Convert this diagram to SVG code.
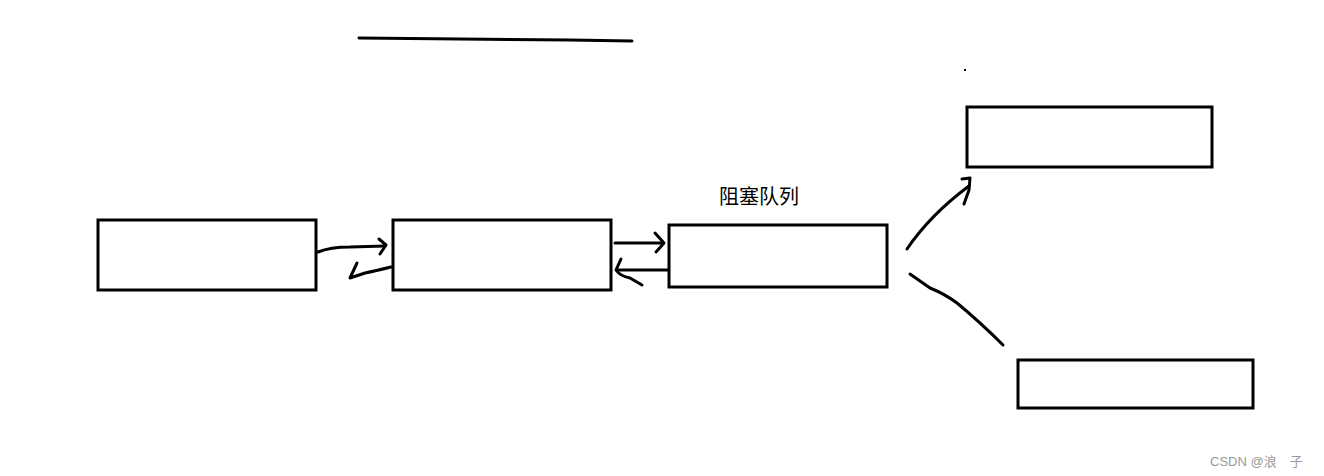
<svg xmlns="http://www.w3.org/2000/svg" width="1324" height="476" viewBox="0 0 1324 476">
<style>
.box{fill:none;stroke:#000;stroke-width:3}
.ln{fill:none;stroke:#000;stroke-width:3;stroke-linecap:round;stroke-linejoin:round}
.lbl{font-family:"Noto Sans CJK SC","Liberation Sans",sans-serif;font-size:20px;fill:#000}
.wm{font-family:"Liberation Sans","Noto Sans CJK SC",sans-serif;font-size:13px;fill:#999}
</style>
<rect width="1324" height="476" fill="#fff"/>
<path class="ln" d="M359,38 L460,39 L570,40 L632,41"/>
<rect x="964" y="69" width="2" height="2" fill="#000"/>
<g id="n1"><rect class="box" x="98" y="220" width="218" height="70"/></g>
<g id="n2"><rect class="box" x="393" y="220" width="218" height="70"/></g>
<g id="n3"><rect class="box" x="669" y="225" width="218" height="62"/><text class="lbl" x="719" y="204">阻塞队列</text></g>
<g id="n4"><rect class="box" x="967" y="107" width="245" height="60"/></g>
<g id="n5"><rect class="box" x="1018" y="360" width="235" height="48"/></g>
<g id="connectors">
<path class="ln" d="M318,252 Q330,247 350,247 L385,246"/>
<path class="ln" d="M379,239 L386,245 L380,254"/>
<path class="ln" d="M391,267 Q375,271 365,273 L350,278 L357,263"/>
<path class="ln" d="M615,243 L663,243"/>
<path class="ln" d="M655,233 L664,243 L656,252"/>
<path class="ln" d="M668,270 L618,270"/>
<path class="ln" d="M621,259 L616,270 Q620,276 630,278 L642,285"/>
<path class="ln" d="M907,249 Q930,215 969,186"/>
<path class="ln" d="M962,179 L970,178 L969,190 L964,204"/>
<path class="ln" d="M910,274 L930,288 Q945,294 957,303 Q980,322 1003,345"/>
</g>
<text class="wm" x="1210" y="466">CSDN @浪　子</text>
</svg>
